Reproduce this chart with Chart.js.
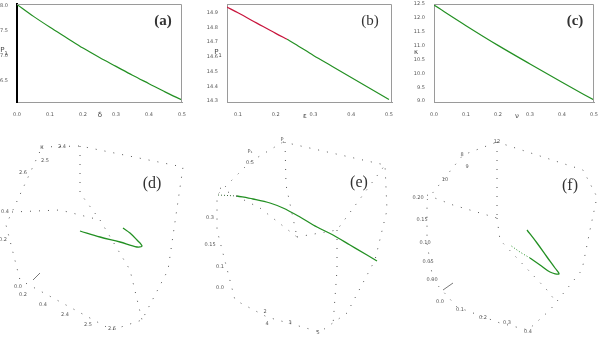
<!DOCTYPE html>
<html>
<head>
<meta charset="utf-8">
<script src="https://cdn.jsdelivr.net/npm/chart.js@4.4.1/dist/chart.umd.min.js"></script>
<style>
  body { margin:0; background:#fff; }
  #fig { position:relative; width:600px; height:338px; overflow:hidden; }
  .box { position:absolute; }
  .lab { position:absolute; transform:translate(-50%,-50%); font-family:"Liberation Serif","DejaVu Serif",serif; color:#333; white-space:nowrap; }
  .pan { font-size:15px; }
  .ax { font-family:"DejaVu Sans",sans-serif; font-size:7px; color:#444; }
</style>
</head>
<body>
<div id="fig">
  <div class="box" style="left:0;top:0;width:200px;height:120px;"><canvas id="ca"></canvas></div>
  <div class="box" style="left:200px;top:0;width:200px;height:120px;"><canvas id="cb"></canvas></div>
  <div class="box" style="left:400px;top:0;width:200px;height:120px;"><canvas id="cc"></canvas></div>
  <div class="box" style="left:0;top:130px;width:200px;height:208px;"><canvas id="cd"></canvas></div>
  <div class="box" style="left:200px;top:130px;width:200px;height:208px;"><canvas id="ce"></canvas></div>
  <div class="box" style="left:400px;top:130px;width:200px;height:208px;"><canvas id="cf"></canvas></div>

  <div class="lab pan" style="left:163px;top:20px;font-weight:bold;">(a)</div>
  <div class="lab pan" style="left:370px;top:20px;">(b)</div>
  <div class="lab pan" style="left:575px;top:20px;font-weight:bold;">(c)</div>
  <div class="lab pan" style="left:152px;top:183px;font-size:16px;">(d)</div>
  <div class="lab pan" style="left:359px;top:182px;font-size:16px;">(e)</div>
  <div class="lab pan" style="left:570px;top:185px;font-size:16px;">(f)</div>

  <div class="lab ax" style="left:4px;top:51px;">P<sub style="font-size:5px">1</sub></div>
  <div class="lab ax" style="left:218px;top:53px;">P<sub style="font-size:5px">1</sub></div>
  <div class="lab ax" style="left:416px;top:52px;">κ</div>
  <div class="lab ax" style="left:100px;top:115px;">δ</div>
  <div class="lab ax" style="left:305px;top:116px;">ε</div>
  <div class="lab ax" style="left:517px;top:116px;">ν</div>
</div>

<script>
// ---- panel (a)
const deltaA = [0,0.05,0.1,0.15,0.2,0.25,0.3,0.35,0.4,0.45,0.5];
const rhoA   = [8.03,7.79,7.57,7.36,7.15,6.96,6.78,6.60,6.43,6.26,6.10];
const xTicksA = [0,0.1,0.2,0.3,0.4,0.5];
const yTicksA = [6.5,7.0,7.5,8.0];

// ---- panel (b)  first 5 points red, rest green
const epsB = [0.07,0.1,0.15,0.2,0.23,0.25,0.3,0.35,0.4,0.45,0.5];
const pB   = [14.94,14.90,14.83,14.76,14.72,14.69,14.61,14.535,14.46,14.385,14.31];
const splitB = 4;
const xTicksB = [0.1,0.2,0.3,0.4,0.5];
const yTicksB = [14.3,14.4,14.5,14.6,14.7,14.8,14.9];

// ---- panel (c)
const nuC = [0,0.1,0.2,0.3,0.4,0.5];
const kC  = [12.46,11.72,11.01,10.34,9.68,9.04];
const xTicksC = [0,0.1,0.2,0.3,0.4,0.5];
const yTicksC = [9.0,9.5,10.0,10.5,11.0,11.5,12.0,12.5];

// ---- 3D panels (projected view units)
const boxD = [[[42,17],[80,16],[183,37],[168,140],[142,190],[112,200],[20,150],[6,95],[42,17]],
              [[80,16],[80,63],[100,90]], [[12,82],[60,80],[100,90]], [[100,90],[130,140],[142,190]]];
const curveD = [[80,101],[100,107],[120,112],[137,117],[142,116],[137,110],[130,103],[123,98]];
const stubD = [[33,150],[40,143]];
const ticksD = [['K',42,18],['2.4',62,17],['2.5',45,31],['2.6',23,43],['0.4',5,82],['0.2',3,110],
                ['0.0',18,157],['0.2',23,165],['0.4',43,175],['2.4',65,185],['2.5',88,195],['2.6',112,199]];

const boxE = [[[83,12],[185,35],[187,80],[175,130],[147,183],[120,202],[67,187],[35,170],[17,100],[17,65],[50,32],[83,12]],
              [[85,12],[86,55],[97,107]], [[20,58],[60,78],[97,107]], [[97,107],[137,100],[185,35]], [[137,100],[137,140],[133,195]]];
const curveE = [[37,66],[53,69],[70,73],[83,78],[100,87],[117,97],[133,105],[150,115],[167,125],[177,131]];
const leadE = [[18,65],[37,66]];
const ticksE = [['P',82,10],['P₁',50,22],['0.5',50,33],['0.3',10,88],['0.15',10,115],['0.1',20,137],
                ['0.0',20,158],['2',65,182],['4',67,194],['3',90,193],['5',118,203]];

const boxF = [[[97,12],[183,40],[197,67],[190,100],[182,140],[150,180],[128,200],[100,193],[57,177],[33,150],[27,113],[27,70],[63,25],[97,12]],
              [[97,12],[97,88]], [[27,65],[53,75],[97,88]], [[97,88],[100,110],[147,160],[157,173]]];
const curveF = [[127,100],[137,113],[147,127],[155,138],[159,144],[150,142],[140,135],[130,128]];
const leadF = [[130,128],[120,122],[110,115]];
const stubF = [[43,160],[53,153]];
const ticksF = [['12',97,12],['8',62,25],['9',67,37],['10',45,50],['0.20',18,68],['0.15',22,90],['0.10',25,113],
                ['0.05',28,132],['0.00',32,150],['0.0',40,172],['0.1',60,180],['0.2',83,188],['0.3',107,193],['0.4',128,202]];

const GREEN = '#239023';
const RED = '#c8143c';
const pts = (xs, ys) => xs.map((x,i) => ({x, y: ys[i]}));
const xy = arr => arr.map(p => ({x:p[0], y:p[1]}));

const frame = {
  id:'frame',
  afterDraw(c) {
    const a = c.chartArea, ctx = c.ctx;
    ctx.save(); ctx.strokeStyle = '#9a9a9a'; ctx.lineWidth = 1;
    ctx.beginPath();
    ctx.moveTo(a.left, a.top + 0.5); ctx.lineTo(a.right - 0.5, a.top + 0.5); ctx.lineTo(a.right - 0.5, a.bottom);
    ctx.stroke(); ctx.restore();
  }
};

function topChart(id, sets, xr, yr, xt, yt, yw, padR, leftCol, leftW) {
  new Chart(document.getElementById(id), {
    type:'scatter',
    data:{ datasets: sets },
    options:{
      responsive:true, maintainAspectRatio:false, animation:false,
      layout:{ padding:{ top:3, right:padR, left:0, bottom:0 } },
      plugins:{ legend:{display:false}, tooltip:{enabled:false} },
      scales:{
        x:{ type:'linear', min:xr[0], max:xr[1],
            afterBuildTicks: s => { s.ticks = xt.map(v => ({value:v})); },
            afterFit: s => { s.height = 18; },
            grid:{ display:false }, border:{ color:'#9a9a9a', width:1 },
            ticks:{ font:{ size:5, family:'DejaVu Sans' }, color:'#555', padding:2, maxRotation:0,
                    callback: v => v.toFixed(1) } },
        y:{ type:'linear', min:yr[0], max:yr[1],
            afterBuildTicks: s => { s.ticks = yt.map(v => ({value:v})); },
            afterFit: s => { s.width = yw; },
            grid:{ display:false }, border:{ color:leftCol, width:leftW },
            ticks:{ font:{ size:5, family:'DejaVu Sans' }, color:'#555', padding:1,
                    callback: v => v.toFixed(1) } }
      }
    },
    plugins:[frame]
  });
}

const line = (data, color, extra) => Object.assign({
  data, showLine:true, borderColor:color, borderWidth:1.2, pointRadius:0,
  tension:0.3, cubicInterpolationMode:'monotone'
}, extra || {});

topChart('ca', [line(pts(deltaA, rhoA), GREEN)], [0,0.5], [6.06,8.04], xTicksA, yTicksA, 17, 18, '#000', 2);
topChart('cb', [
  line(pts(epsB.slice(0, splitB+1), pB.slice(0, splitB+1)), RED),
  line(pts(epsB.slice(splitB), pB.slice(splitB)), GREEN)
], [0.071,0.508], [14.293,14.96], xTicksB, yTicksB, 27, 8, '#9a9a9a', 1);
topChart('cc', [line(pts(nuC, kC), GREEN)], [0,0.5], [8.97,12.5], xTicksC, yTicksC, 34, 3, '#9a9a9a', 1);

const tickText = {
  id:'tickText',
  afterDatasetsDraw(c, args, opts) {
    const ctx = c.ctx, sx = c.scales.x, sy = c.scales.y;
    ctx.save(); ctx.fillStyle = '#555'; ctx.font = '5px "DejaVu Sans"';
    ctx.textAlign = 'center'; ctx.textBaseline = 'middle';
    opts.items.forEach(t => ctx.fillText(t[0], sx.getPixelForValue(t[1]), sy.getPixelForValue(t[2])));
    ctx.restore();
  }
};

function boxChart(id, edges, curves, ticks) {
  const sets = edges.map(e => ({ data:xy(e), showLine:true, borderColor:'#555', borderWidth:1,
                                 borderDash:[1,8], pointRadius:0, tension:0 }));
  curves.forEach(cv => sets.push(cv));
  new Chart(document.getElementById(id), {
    type:'scatter',
    data:{ datasets: sets },
    options:{
      responsive:true, maintainAspectRatio:false, animation:false,
      layout:{ padding:0 },
      plugins:{ legend:{display:false}, tooltip:{enabled:false}, tickText:{ items:ticks } },
      scales:{
        x:{ type:'linear', min:0, max:200, display:false },
        y:{ type:'linear', min:0, max:208, reverse:true, display:false }
      }
    },
    plugins:[tickText]
  });
}

boxChart('cd', boxD, [
  line(xy(curveD), GREEN, { borderWidth:1.3, cubicInterpolationMode:'default', tension:0.35 }),
  line(xy(stubD), '#555', { borderWidth:0.8, tension:0 })
], ticksD);
boxChart('ce', boxE, [
  line(xy(curveE), GREEN, { borderWidth:1.3 }),
  line(xy(leadE), '#3a6a3a', { borderWidth:1, borderDash:[1,2], tension:0 })
], ticksE);
boxChart('cf', boxF, [
  line(xy(curveF), GREEN, { borderWidth:1.3, cubicInterpolationMode:'default', tension:0.35 }),
  line(xy(leadF), GREEN, { borderWidth:1, borderDash:[1,2], tension:0 }),
  line(xy(stubF), '#555', { borderWidth:0.8, tension:0 })
], ticksF);
</script>
</body>
</html>
